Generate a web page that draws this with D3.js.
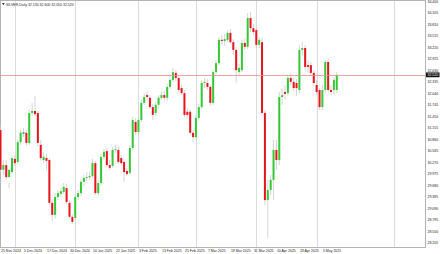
<!DOCTYPE html>
<html>
<head>
<meta charset="utf-8">
<script src="https://cdn.jsdelivr.net/npm/d3@7"></script>
<style>
  html, body { margin: 0; padding: 0; background: #fff; }
  svg { display: block; }
</style>
</head>
<body>
<div id="chart"></div>
<script>
const symbol = 'SILVER,Daily';

// trading days shown on the chart (no bars on Dec 25, Jan 1, Apr 18)
const dates = [
  '2024-11-25','2024-11-26','2024-11-27','2024-11-28','2024-11-29',
  '2024-12-02','2024-12-03','2024-12-04','2024-12-05','2024-12-06','2024-12-09','2024-12-10','2024-12-11','2024-12-12','2024-12-13',
  '2024-12-16','2024-12-17','2024-12-18','2024-12-19','2024-12-20','2024-12-23','2024-12-24','2024-12-26','2024-12-27','2024-12-30','2024-12-31',
  '2025-01-02','2025-01-03','2025-01-06','2025-01-07','2025-01-08','2025-01-09','2025-01-10','2025-01-13','2025-01-14','2025-01-15',
  '2025-01-16','2025-01-17','2025-01-20','2025-01-21','2025-01-22','2025-01-23','2025-01-24','2025-01-27','2025-01-28','2025-01-29',
  '2025-01-30','2025-01-31',
  '2025-02-03','2025-02-04','2025-02-05','2025-02-06','2025-02-07','2025-02-10','2025-02-11','2025-02-12','2025-02-13','2025-02-14',
  '2025-02-17','2025-02-18','2025-02-19','2025-02-20','2025-02-21','2025-02-24','2025-02-25','2025-02-26','2025-02-27','2025-02-28',
  '2025-03-03','2025-03-04','2025-03-05','2025-03-06','2025-03-07','2025-03-10','2025-03-11','2025-03-12','2025-03-13','2025-03-14',
  '2025-03-17','2025-03-18','2025-03-19','2025-03-20','2025-03-21','2025-03-24','2025-03-25','2025-03-26','2025-03-27','2025-03-28',
  '2025-03-31',
  '2025-04-01','2025-04-02','2025-04-03','2025-04-04','2025-04-07','2025-04-08','2025-04-09','2025-04-10','2025-04-11','2025-04-14',
  '2025-04-15','2025-04-16','2025-04-17','2025-04-21','2025-04-22','2025-04-23','2025-04-24','2025-04-25','2025-04-28','2025-04-29',
  '2025-04-30',
  '2025-05-01','2025-05-02','2025-05-05','2025-05-06','2025-05-07','2025-05-08','2025-05-09','2025-05-12'
];

const opens = [
  31.10,30.08,30.20,29.89,30.02,30.36,30.28,30.79,31.00,31.03,30.77,31.54,31.59,31.54,30.72,30.33,30.38,30.33,29.23,28.92,
  29.38,29.46,29.51,29.61,29.23,28.87,28.84,29.38,29.48,29.77,29.87,29.89,29.92,30.25,29.48,29.74,30.41,30.56,30.20,30.18,
  30.59,30.59,30.38,30.28,30.05,30.00,30.64,31.31,31.05,31.36,31.80,32.00,31.93,31.69,31.54,31.75,31.93,32.00,31.93,32.21,
  32.39,32.57,32.44,32.18,32.05,31.57,31.57,31.03,30.92,31.41,31.69,32.31,32.31,32.21,31.80,32.59,32.82,33.42,33.39,33.42,
  33.60,33.36,33.16,32.59,32.64,33.34,33.24,33.98,33.72,33.67,33.29,33.36,31.54,29.30,29.56,29.82,30.59,30.33,31.95,32.08,
  32.05,32.44,32.34,32.31,32.13,33.16,33.21,32.77,32.77,32.57,32.26,32.13,31.69,32.13,32.85,32.13,32.13,32.13
];
const highs = [
  31.23,30.33,30.33,29.74,30.46,30.46,30.85,31.10,31.15,31.10,31.62,31.80,31.98,31.59,30.85,30.54,30.49,30.38,29.33,29.48,
  29.56,29.61,29.74,29.72,29.30,28.94,29.43,29.56,29.84,29.95,30.02,30.02,30.36,30.31,29.82,30.49,30.61,30.64,30.33,30.67,
  30.72,30.67,30.46,30.33,30.13,30.72,31.44,31.41,31.44,31.87,32.05,32.08,32.00,31.77,31.82,32.00,32.08,32.11,32.29,32.52,
  32.70,32.65,32.52,32.26,32.13,31.67,31.62,31.10,31.49,31.77,32.39,32.44,32.41,32.26,32.65,32.90,33.49,33.54,33.57,33.67,
  33.70,33.44,33.24,32.80,33.42,33.47,34.11,34.14,33.83,33.75,33.49,33.47,31.62,29.82,29.95,30.85,30.85,32.08,32.18,32.26,
  32.52,32.57,32.44,32.41,33.29,33.36,33.29,32.90,32.85,32.64,32.39,32.18,32.26,32.90,32.95,32.26,32.46,32.60
];
const lows = [
  30.02,29.95,29.82,29.61,29.97,30.18,30.23,30.72,30.92,30.69,30.72,31.46,31.46,30.69,30.31,30.25,30.08,29.17,28.76,28.82,
  29.30,29.38,29.46,29.20,28.82,28.69,28.79,29.30,29.41,29.66,29.79,29.82,29.87,29.43,29.41,29.69,30.33,30.15,30.08,30.13,
  30.51,30.23,30.18,29.77,29.92,29.95,30.59,30.97,30.95,31.31,31.75,31.87,31.64,31.36,31.46,31.67,31.87,31.85,31.85,32.16,
  32.34,32.36,32.08,32.00,31.44,31.41,30.97,30.79,30.85,31.36,31.64,32.18,32.13,31.72,31.75,32.54,32.77,33.29,33.26,33.36,
  33.31,33.03,32.31,32.52,32.59,33.16,33.18,33.62,33.54,33.21,33.21,31.49,29.17,28.33,29.43,29.30,30.08,30.20,31.75,31.87,
  31.98,32.26,32.10,31.98,32.05,33.03,32.64,32.59,32.49,32.23,32.00,31.62,31.62,32.05,32.08,32.00,32.03,32.05
];
const closes = [
  30.08,30.20,29.89,30.08,30.38,30.25,30.79,31.03,31.05,30.77,31.54,31.59,31.51,30.77,30.38,30.41,30.31,29.23,28.92,29.38,
  29.48,29.53,29.64,29.25,28.87,28.74,29.38,29.48,29.77,29.87,29.89,29.92,30.25,29.48,29.74,30.41,30.54,30.20,30.13,30.59,
  30.61,30.28,30.25,30.02,29.97,30.64,31.36,31.05,31.36,31.80,31.95,31.95,31.69,31.49,31.75,31.93,32.00,31.93,32.21,32.39,
  32.59,32.44,32.13,32.05,31.49,31.49,31.03,30.92,31.41,31.69,32.31,32.34,32.21,31.80,32.59,32.82,33.42,33.39,33.44,33.60,
  33.36,33.16,32.64,32.70,33.34,33.24,33.98,33.72,33.62,33.29,33.42,31.54,29.30,29.56,29.82,30.59,30.33,31.95,32.00,32.03,
  32.44,32.34,32.18,32.18,33.16,33.21,32.72,32.72,32.57,32.31,32.08,31.69,32.13,32.85,32.13,32.08,32.39,32.52
];

const priceTicks = [34.400,34.105,33.810,33.515,33.220,32.925,32.630,32.335,32.040,31.745,31.450,
  31.155,30.860,30.565,30.270,29.975,29.680,29.385,29.090,28.795,28.500,28.205];
const dateTickLabels = ['25 Nov 2024','5 Dec 2024','17 Dec 2024','30 Dec 2024','10 Jan 2025','22 Jan 2025',
  '3 Feb 2025','13 Feb 2025','25 Feb 2025','7 Mar 2025','19 Mar 2025','31 Mar 2025','10 Apr 2025','23 Apr 2025','5 May 2025'];
const dateTickDates = ['2024-11-25','2024-12-05','2024-12-17','2024-12-30','2025-01-10','2025-01-22',
  '2025-02-03','2025-02-13','2025-02-25','2025-03-07','2025-03-19','2025-03-31','2025-04-10','2025-04-23','2025-05-05'];
const gridDates = ['2024-12-02','2025-01-02','2025-02-03','2025-03-03','2025-04-01','2025-05-01'];

const W = 440, H = 254;
const plot = { left: 0.5, top: 0.5, right: 425.5, bottom: 247.5 };
const fontSize = 3.5;

const bars = dates.map((d, i) => ({ i, date: d, o: opens[i], h: highs[i], l: lows[i], c: closes[i] }));
const indexOf = d => dates.indexOf(d);

const x = d3.scaleLinear().domain([0, 147.7]).range([0.5, 425]);
const y = d3.scaleLinear().domain([28.205, 34.400]).range([242.7, 1.7]);

const svg = d3.select('#chart').append('svg')
  .attr('width', W)
  .attr('height', H)
  .attr('viewBox', [0, 0, W, H].join(' '))
  .style('font-family', '"Liberation Sans", Arial, sans-serif');

// vertical grid
const gridX = gridDates.map(d => x(indexOf(d))).concat([x(136.8)]);
svg.append('g').selectAll('line')
  .data(gridX)
  .join('line')
  .attr('x1', d => Math.round(d) + 0.5)
  .attr('x2', d => Math.round(d) + 0.5)
  .attr('y1', plot.top)
  .attr('y2', plot.bottom)
  .attr('stroke', '#dcdcdc')
  .attr('stroke-width', 1);

// frame
svg.append('rect')
  .attr('x', plot.left)
  .attr('y', plot.top)
  .attr('width', plot.right - plot.left)
  .attr('height', plot.bottom - plot.top)
  .attr('fill', 'none')
  .attr('stroke', '#b4b4b4')
  .attr('stroke-width', 1);

// candles
const candles = svg.append('g');
candles.selectAll('line')
  .data(bars)
  .join('line')
  .attr('x1', d => x(d.i))
  .attr('x2', d => x(d.i))
  .attr('y1', d => y(d.h))
  .attr('y2', d => y(d.l))
  .attr('stroke', '#c4c4c4')
  .attr('stroke-width', 0.7);

candles.selectAll('rect')
  .data(bars)
  .join('rect')
  .attr('x', d => x(d.i) - 1)
  .attr('width', 2)
  .attr('y', d => y(Math.max(d.o, d.c)))
  .attr('height', d => Math.max(0.9, Math.abs(y(d.o) - y(d.c))))
  .attr('fill', d => d.c >= d.o ? '#34c934' : '#e8141c');

// current price line
const last = bars[bars.length - 1];
svg.append('line')
  .attr('x1', plot.left)
  .attr('x2', 426)
  .attr('y1', Math.round(y(last.c)) + 0.5)
  .attr('y2', Math.round(y(last.c)) + 0.5)
  .attr('stroke', '#f08c8c')
  .attr('stroke-width', 0.8);

// price axis labels
svg.append('g').selectAll('text')
  .data(priceTicks)
  .join('text')
  .attr('x', 427.5)
  .attr('y', d => y(d) + 1.3)
  .attr('font-size', fontSize)
  .attr('fill', '#222')
  .text(d => d.toFixed(3));

svg.append('rect')
  .attr('x', 426)
  .attr('y', y(last.c) - 2.4)
  .attr('width', 13.5)
  .attr('height', 4.8)
  .attr('fill', '#111');
svg.append('text')
  .attr('x', 427.5)
  .attr('y', y(last.c) + 1.3)
  .attr('font-size', fontSize)
  .attr('fill', '#fff')
  .text(last.c.toFixed(3));

// date axis labels
svg.append('g').selectAll('text')
  .data(dateTickLabels)
  .join('text')
  .attr('x', (d, k) => x(indexOf(dateTickDates[k])) + 0.5)
  .attr('y', 251.8)
  .attr('font-size', fontSize)
  .attr('fill', '#222')
  .text(d => d);

// header
svg.append('path')
  .attr('d', 'M2,3 L4.6,3 L3.3,5.2 Z')
  .attr('fill', '#333');
svg.append('text')
  .attr('x', 6)
  .attr('y', 5.6)
  .attr('font-size', fontSize)
  .attr('fill', '#222')
  .text(`${symbol}  ${last.o.toFixed(3)} ${last.h.toFixed(3)} ${last.l.toFixed(3)} ${last.c.toFixed(3)}`);
</script>
</body>
</html>
